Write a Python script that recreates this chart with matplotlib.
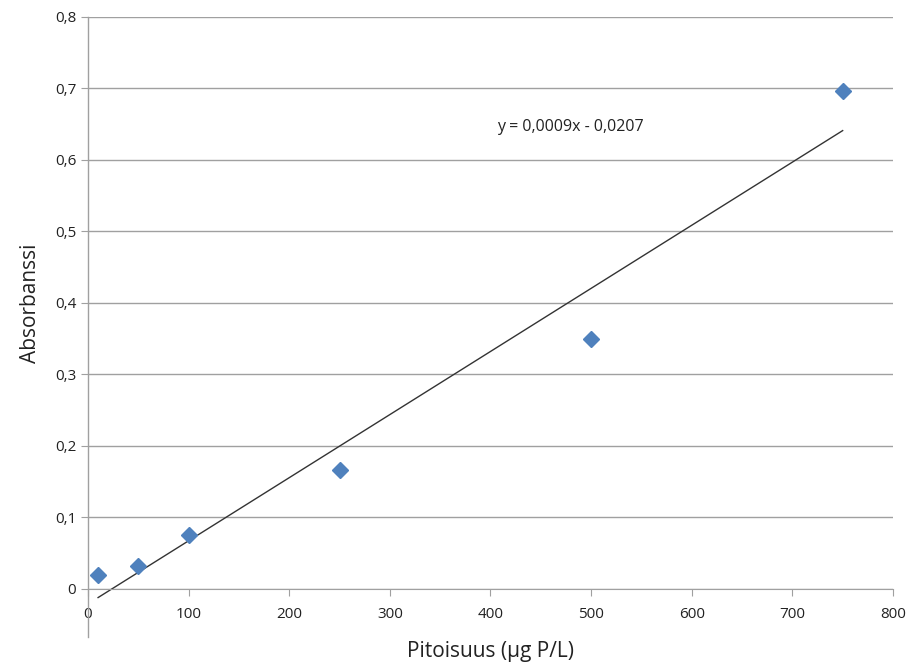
import numpy as np
import matplotlib.pyplot as plt

# standard curve
pitoisuus = [10, 50, 100, 250, 500, 750]
absorbanssi = [0.019, 0.032, 0.075, 0.167, 0.350, 0.697]
x_ticks = [0, 100, 200, 300, 400, 500, 600, 700, 800]
y_ticks = [0, 0.1, 0.2, 0.3, 0.4, 0.5, 0.6, 0.7, 0.8]

plt.rcParams['font.family'] = ['Open Sans', 'DejaVu Sans']

fig = plt.figure(figsize=(9.14, 6.64), dpi=100)
ax = fig.add_axes([0.0963, 0.113, 0.8807, 0.8614])

k, b = np.polyfit(pitoisuus, absorbanssi, 1)
xs = np.array([pitoisuus[0], pitoisuus[-1]])
ax.plot(xs, k * xs + b, color='#333333', lw=1, zorder=2, clip_on=False)
ax.plot(pitoisuus, absorbanssi, 'D', color='#4F81BD', ms=8, mec='#4F81BD', zorder=3, clip_on=False)
ax.text(406, 0.64, 'y = 0,0009x - 0,0207', fontsize=11.5, color='#222222')

ax.set_xlim(0, 800)
ax.set_ylim(0, 0.8)
ax.set_xticks(x_ticks)
ax.set_yticks(y_ticks)
ax.set_xticklabels([str(v) for v in x_ticks])
ax.set_yticklabels([('%.1f' % v).replace('.', ',') if v else '0' for v in y_ticks])
ax.grid(axis='y', color='#A0A0A0', lw=1)
ax.set_axisbelow(True)
for s in ['top', 'right', 'left']:
    ax.spines[s].set_visible(False)
ax.spines['bottom'].set_color('#A0A0A0')
# y axis line runs a bit below zero like in the original
ax.plot([0, 0], [-0.067, 0.8], color='#A0A0A0', lw=1, clip_on=False, zorder=1)
ax.tick_params(axis='both', colors='#A0A0A0', labelcolor='#222222', labelsize=11, length=5, direction='out')
ax.tick_params(axis='x', pad=8)
ax.set_xlabel('Pitoisuus (µg P/L)', fontsize=15, color='#222222', labelpad=14)
ax.set_ylabel('Absorbanssi', fontsize=15, color='#222222', labelpad=10)

fig.savefig('out.png', dpi=100)
